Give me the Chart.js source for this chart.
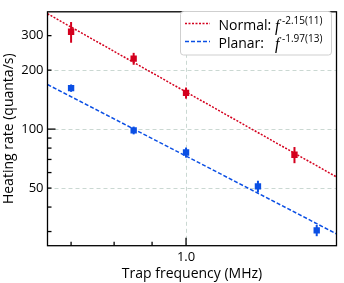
<!DOCTYPE html>
<html>
<head>
<meta charset="utf-8">
<script src="https://cdn.jsdelivr.net/npm/chart.js@4"></script>
<style>
  html, body { margin: 0; padding: 0; background: #fff; }
  #wrap { width: 344px; height: 283px; }
</style>
</head>
<body>
<div id="wrap"><canvas id="chart" width="344" height="283"></canvas></div>
<script>
// measured data (trap frequency in MHz, heating rate in quanta/s)
const normalFreq = [0.70, 0.85, 1.00, 1.40];
const normalRate = [314, 229, 153, 74];
const normalErr = [38, 16, 10, 7];

const planarFreq = [0.70, 0.85, 1.00, 1.25, 1.50];
const planarRate = [162, 98.5, 76, 51, 30.4];
const planarErr = [7, 4.5, 4.5, 3.5, 2];

// fit lines, read at the plot edges
const fitFreq = [0.6506, 1.595];
const normalFit = [388, 57];
const planarFit = [169, 29.2];

const xTicks = [0.7, 0.8, 0.9, 1.0];
const xLabels = { 1: "1.0" };
const yTicks = [30, 40, 50, 60, 70, 80, 90, 100, 200, 300];
const yLabels = { 50: "50", 100: "100", 200: "200", 300: "300" };
const yGrid = [50, 100, 200];
const xGrid = [1.0];

const RED = "#d4001e";
const BLUE = "#0b4fe4";
const FONT = "'Open Sans', sans-serif";

const pts = (xs, ys) => xs.map((x, i) => ({ x: x, y: ys[i] }));

// dashed grid lines behind the data
const gridPlugin = {
  id: "grid",
  beforeDatasetsDraw(chart) {
    const { ctx, chartArea: a, scales: { x, y } } = chart;
    ctx.save();
    ctx.strokeStyle = "#cad8d2";
    ctx.lineWidth = 1;
    ctx.setLineDash([4, 3]);
    yGrid.forEach(v => {
      const py = Math.round(y.getPixelForValue(v)) + 0.5;
      ctx.beginPath(); ctx.moveTo(a.left, py); ctx.lineTo(a.right, py); ctx.stroke();
    });
    xGrid.forEach(v => {
      const px = Math.round(x.getPixelForValue(v)) + 0.5;
      ctx.beginPath(); ctx.moveTo(px, a.top); ctx.lineTo(px, a.bottom); ctx.stroke();
    });
    ctx.restore();
  }
};

// vertical error bars
const errorPlugin = {
  id: "errors",
  afterDatasetsDraw(chart) {
    const { ctx, scales: { x, y } } = chart;
    const sets = [
      [normalFreq, normalRate, normalErr, RED],
      [planarFreq, planarRate, planarErr, BLUE]
    ];
    ctx.save();
    ctx.lineWidth = 2;
    sets.forEach(([fx, fy, fe, col]) => {
      ctx.strokeStyle = col;
      fx.forEach((f, i) => {
        const px = x.getPixelForValue(f);
        ctx.beginPath();
        ctx.moveTo(px, y.getPixelForValue(fy[i] + fe[i]));
        ctx.lineTo(px, y.getPixelForValue(fy[i] - fe[i]));
        ctx.stroke();
      });
    });
    ctx.restore();
  }
};

// frame, inward ticks and the legend box
const framePlugin = {
  id: "frame",
  afterDraw(chart) {
    const { ctx, chartArea: a, scales: { x, y } } = chart;
    ctx.save();
    ctx.strokeStyle = "#000";
    ctx.lineWidth = 1.3;
    ctx.strokeRect(a.left, a.top, a.right - a.left, a.bottom - a.top);
    yTicks.forEach(v => {
      const py = y.getPixelForValue(v);
      const len = v === 100 ? 8 : 4;
      ctx.beginPath(); ctx.moveTo(a.left, py); ctx.lineTo(a.left + len, py); ctx.stroke();
    });
    xTicks.forEach(v => {
      const px = x.getPixelForValue(v);
      const len = v === 1 ? 8 : 4;
      ctx.beginPath(); ctx.moveTo(px, a.bottom); ctx.lineTo(px, a.bottom - len); ctx.stroke();
    });

    // legend
    ctx.beginPath();
    ctx.roundRect(180.5, 11.5, 151, 43.5, 3);
    ctx.fillStyle = "#fff";
    ctx.fill();
    ctx.lineWidth = 1;
    ctx.strokeStyle = "#cfcfcf";
    ctx.stroke();

    ctx.lineWidth = 1.5;
    ctx.strokeStyle = RED;
    ctx.setLineDash([2, 1.5]);
    ctx.beginPath(); ctx.moveTo(185, 23.5); ctx.lineTo(210, 23.5); ctx.stroke();
    ctx.strokeStyle = BLUE;
    ctx.setLineDash([4, 2]);
    ctx.beginPath(); ctx.moveTo(185, 41.5); ctx.lineTo(210, 41.5); ctx.stroke();
    ctx.setLineDash([]);

    ctx.fillStyle = "#000";
    ctx.textBaseline = "alphabetic";
    ctx.textAlign = "left";
    ctx.font = "14px " + FONT;
    ctx.fillText("Normal:", 218.5, 29.5);
    ctx.fillText("Planar:", 218.5, 47.5);
    ctx.font = "italic 16px 'Liberation Serif', serif";
    ctx.fillText("f", 275, 30.5);
    ctx.fillText("f", 275, 48.5);
    ctx.font = "10px " + FONT;
    ctx.fillText("-2.15(11)", 282, 23.5);
    ctx.fillText("-1.97(13)", 282, 41.5);
    ctx.restore();
  }
};

new Chart(document.getElementById("chart"), {
  type: "scatter",
  data: {
    datasets: [
      {
        label: "Normal fit",
        data: pts(fitFreq, normalFit),
        showLine: true,
        borderColor: RED,
        borderWidth: 1.5,
        borderDash: [2, 1.5],
        pointRadius: 0
      },
      {
        label: "Planar fit",
        data: pts(fitFreq, planarFit),
        showLine: true,
        borderColor: BLUE,
        borderWidth: 1.5,
        borderDash: [4, 2],
        pointRadius: 0
      },
      {
        label: "Normal",
        data: pts(normalFreq, normalRate),
        pointStyle: "rect",
        pointRadius: 4.5,
        backgroundColor: RED,
        borderWidth: 0
      },
      {
        label: "Planar",
        data: pts(planarFreq, planarRate),
        pointStyle: "rect",
        pointRadius: 4.5,
        backgroundColor: BLUE,
        borderWidth: 0
      }
    ]
  },
  options: {
    responsive: false,
    animation: false,
    layout: { padding: { top: 5, right: 7.5, left: 0, bottom: 0 } },
    plugins: {
      legend: { display: false },
      tooltip: { enabled: false }
    },
    scales: {
      x: {
        type: "logarithmic",
        min: 0.6506,
        max: 1.595,
        afterBuildTicks: s => { s.ticks = xTicks.map(v => ({ value: v })); },
        afterFit: s => { s.height = 37.3; },
        grid: { display: false, drawTicks: false },
        border: { display: false },
        ticks: {
          autoSkip: false,
          maxRotation: 0,
          padding: 4,
          color: "#000",
          font: { family: FONT, size: 13 },
          callback: v => xLabels[v] || ""
        },
        title: {
          display: true,
          text: "Trap frequency (MHz)",
          color: "#000",
          font: { family: FONT, size: 14 },
          padding: { top: 0, bottom: 1 }
        }
      },
      y: {
        type: "logarithmic",
        min: 25.4,
        max: 397,
        afterBuildTicks: s => { s.ticks = yTicks.map(v => ({ value: v })); },
        afterFit: s => { s.width = 47.5; },
        grid: { display: false, drawTicks: false },
        border: { display: false },
        ticks: {
          autoSkip: false,
          padding: 4,
          color: "#000",
          font: { family: FONT, size: 13 },
          callback: v => yLabels[v] || ""
        },
        title: {
          display: true,
          text: "Heating rate (quanta/s)",
          color: "#000",
          font: { family: FONT, size: 14 },
          padding: { top: 1, bottom: 0 }
        }
      }
    }
  },
  plugins: [gridPlugin, errorPlugin, framePlugin]
});
</script>
</body>
</html>
